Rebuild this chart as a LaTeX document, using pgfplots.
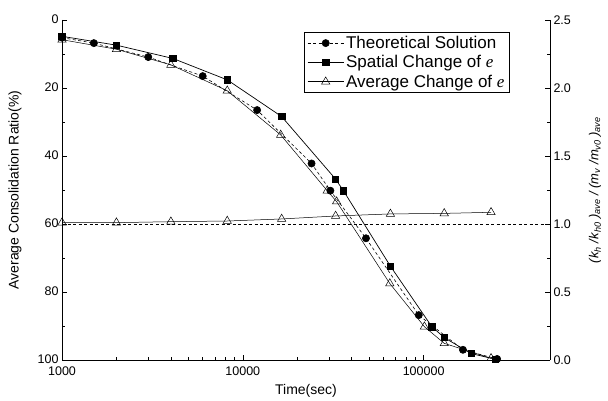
\documentclass[border=0pt]{standalone}
\usepackage{fontspec}
\setmainfont{Liberation Sans}
\newfontfamily\serifit{Liberation Serif}
\usepackage{pgfplots}
\pgfplotsset{compat=1.18}

% consolidation ratio U (%) versus time (s)
\pgfplotstableread{
t      U
1000   5.2
1500   6.8
3000   10.9
6000   16.5
12000  26.5
24000  42.2
30500  50.2
48000  64.2
94000  86.8
165000 97.0
255000 99.7
}\theory
\pgfplotstableread{
t      U
1000   4.8
2000   7.4
4100   11.3
8200   17.6
16400  28.4
32600  46.8
36000  50.2
65500  72.4
111000 90.2
130000 93.4
183000 98.1
250000 99.8
}\spatial
\pgfplotstableread{
t      U
1000   5.8
2000   8.6
4000   13.2
8200   20.8
16200  33.8
29300  50.2
33000  53.4
65000  77.5
101000 90.2
130000 95.1
236000 99.5
}\average
% permeability / compressibility ratio (right axis)
\pgfplotstableread{
t      r
1000   1.010
2000   1.010
4000   1.017
8200   1.022
16400  1.037
32600  1.059
65500  1.074
130000 1.078
236000 1.086
}\ratio

\begin{document}
\begin{tikzpicture}
\useasboundingbox (-62pt,-41pt) rectangle (546pt,360pt);
\pgfplotsset{
  every axis/.append style={
    scale only axis, width=488pt, height=340pt,
    xmode=log, xmin=1000, xmax=500000,
    tick align=inside,
    major tick length=5pt, minor tick length=3pt,
    tick style={black, line width=0.6pt},
    axis line style={line width=0.8pt},
    tick label style={font=\fontsize{12.5}{14}\selectfont},
    label style={font=\fontsize{14}{16}\selectfont},
    /pgf/number format/assume math mode=true,
  },
}
\begin{axis}[
  axis x line*=bottom, axis y line*=left,
  y dir=reverse, ymin=0, ymax=100,
  ytick={0,20,...,100}, minor y tick num=1,
  yticklabel style={yshift=1pt},
  xtick={1000,10000,100000},
  xticklabels={1000,10000,100000},
  xticklabel style={yshift=-3pt},
  xlabel={Time(sec)},
  xlabel style={at={(axis description cs:0.5,0)}, anchor=center, yshift=-31pt},
  ylabel={Average Consolidation Ratio(\%)},
  ylabel style={at={(axis description cs:0,0.5)}, anchor=center, yshift=47pt},
  legend style={
    at={(axis description cs:0.496,0.965)}, anchor=north west,
    draw=black, line width=0.6pt, fill=white,
    font=\fontsize{17}{19}\selectfont,
    inner xsep=3pt, inner ysep=2pt,
    row sep=1.5pt,
  },
  legend cell align=left,
  legend image code/.code={
    \draw[mark repeat=2, mark phase=2]
      plot coordinates {(0pt,0pt) (18pt,0pt) (36pt,0pt)};
  },
]
\addplot[black, line width=0.6pt, dash pattern=on 3pt off 2.5pt,
  mark=*, mark size=3.6pt, mark options={solid}]
  table[x=t, y=U] {\theory};
\addlegendentry{Theoretical Solution}
\addplot[black, line width=0.7pt, mark=square*, mark size=3.2pt]
  table[x=t, y=U] {\spatial};
\addlegendentry{Spatial Change of {\serifit\itshape e}}
\addplot[black, line width=0.5pt, mark=triangle, mark size=4.8pt,
  mark options={fill=white}]
  table[x=t, y=U] {\average};
\addlegendentry{Average Change of {\serifit\itshape e}}
\end{axis}

\begin{axis}[
  axis y line*=right, axis x line=none,
  ymin=0, ymax=2.5,
  ytick={0,0.5,...,2.5}, minor y tick num=1,
  yticklabel style={/pgf/number format/.cd, fixed, fixed zerofill, precision=1},
  ylabel={\itshape (k\textsubscript{h} /k\textsubscript{h0} )\textsubscript{ave} / (m\textsubscript{v} /m\textsubscript{v0} )\textsubscript{ave}},
  ylabel style={at={(axis description cs:1,0.5)}, anchor=center, yshift=-45pt,
    font=\fontsize{13}{15}\selectfont},
]
\addplot[black, line width=0.5pt, dash pattern=on 3pt off 2.5pt]
  coordinates {(1000,1.0) (500000,1.0)};
\addplot[black, line width=0.5pt, mark=triangle, mark size=4.8pt,
  mark options={fill=white}]
  table[x=t, y=r] {\ratio};
\end{axis}
\end{tikzpicture}
\end{document}
